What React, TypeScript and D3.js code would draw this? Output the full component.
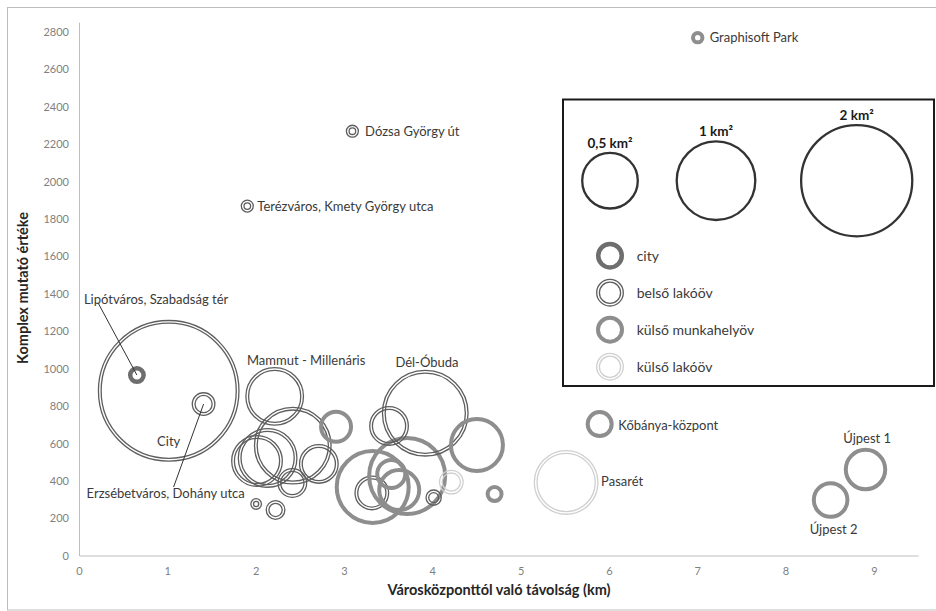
import React from "react";
import * as d3 from "d3";

// ---- data ----
const names = [
  "Graphisoft Park", "Dózsa György út", "Terézváros, Kmety György utca", "Lipótváros, Szabadság tér",
  "City", "Erzsébetváros, Dohány utca", "Mammut - Millenáris", "", "", "", "", "", "", "", "",
  "", "", "", "", "", "", "Dél-Óbuda", "", "", "", "", "Kőbánya-központ", "Pasarét", "Újpest 1", "Újpest 2",
];
const distances = [
  7.0, 3.09, 1.9, 0.65, 1.01, 1.405, 2.21, 2.01, 2.13, 2.415, 2.41, 2.71, 2.905, 2.0, 2.22,
  3.32, 3.31, 3.71, 3.62, 3.53, 3.505, 3.915, 4.5, 4.21, 4.01, 4.7, 5.89, 5.51, 8.9, 8.505,
];
const values = [
  2770, 2270, 1870, 967, 883, 812, 853, 508, 524, 590, 390, 492, 691, 278, 246,
  369, 337, 428, 353, 438, 695, 763, 593, 395, 312, 331, 705, 393, 462, 299,
];
const areas = [
  0.029, 0.029, 0.029, 0.052, 3.26, 0.093, 0.563, 0.438, 0.583, 0.985, 0.146, 0.259, 0.187, 0.023, 0.065,
  0.935, 0.198, 1.036, 0.313, 0.166, 0.259, 1.225, 0.508, 0.101, 0.045, 0.052, 0.127, 0.684, 0.305, 0.229,
];
// C = city, B = belső lakóöv, K = külső munkahelyöv, L = külső lakóöv
const zones = [
  "K", "B", "B", "C", "B", "B", "B", "B", "B", "B", "B", "B", "K", "B", "B",
  "K", "B", "K", "K", "K", "B", "B", "K", "L", "B", "K", "K", "L", "K", "K",
];
const yTicks = [0, 200, 400, 600, 800, 1000, 1200, 1400, 1600, 1800, 2000, 2200, 2400, 2600, 2800];
const xTicks = [0, 1, 2, 3, 4, 5, 6, 7, 8, 9];
const legendSizes = [0.5, 1, 2];
const legendSizeLabels = ["0,5 km²", "1 km²", "2 km²"];
const legendZones = ["C", "B", "K", "L"];
const legendZoneLabels = ["city", "belső lakóöv", "külső munkahelyöv", "külső lakóöv"];

// labels: index of bubble, offset, anchor, leader line
const labelIdx = [0, 1, 2, 3, 4, 5, 6, 21, 26, 27, 28, 29];
const labelDx = [12, 12.7, 10, -53, 0, -117, 31.5, 1.7, 18.6, 35, 1.7, 3];
const labelDy = [0, 0, 0, -76, 51, 89, -35.6, -50.6, 1, -1, -31, 29];
const labelAnchor = ["start", "start", "start", "start", "middle", "start", "middle", "middle", "start", "start", "middle", "middle"];
const leaderFrom: ([number, number] | null)[] = [null, null, null, [14, 3.5], null, [87, -6], null, null, null, null, null, null];

const FONT = "Lato, 'Open Sans', sans-serif";

const x = d3.scaleLinear().domain([0, 9.5]).range([79.5, 918.5]);
const y = d3.scaleLinear().domain([0, 2850]).range([556, 22.7]);
const r = d3.scaleSqrt().domain([0, 1]).range([0, 39.3]);

function Ring({ cx, cy, R, zone }: { cx: number; cy: number; R: number; zone: string }) {
  if (zone === "C") {
    return <circle cx={cx} cy={cy} r={Math.max(R - 2.25, 1)} fill="none" stroke="#6e6e6e" strokeWidth={4.5} />;
  }
  if (zone === "K") {
    return <circle cx={cx} cy={cy} r={Math.max(R - 2, 1)} fill="none" stroke="#8e8e8e" strokeWidth={4} />;
  }
  const col = zone === "B" ? "#5e5e5e" : "#cfcfcf";
  return (
    <g>
      <circle cx={cx} cy={cy} r={R - 0.7} fill="none" stroke={col} strokeWidth={1.3} />
      <circle cx={cx} cy={cy} r={Math.max(R - 3.4, 0.8)} fill="none" stroke={col} strokeWidth={1.3} />
    </g>
  );
}

export default function App() {
  const sizeCx = [610, 716, 856.7];
  const sizeCy = 180.7;
  return (
    <svg width={936} height={611} style={{ position: "absolute", left: 0, top: 0, background: "#fff" }} fontFamily={FONT}>
      <rect x={0} y={0} width={936} height={611} fill="#fff" />
      <rect x={7.5} y={7.5} width={940} height={602.5} fill="none" stroke="#bdbdbd" strokeWidth={1} />
      {/* axes */}
      <line x1={x(0)} x2={x(0)} y1={y(2850)} y2={y(0)} stroke="#bfbfbf" strokeWidth={1} />
      <line x1={x(0)} x2={x(9.5)} y1={y(0)} y2={y(0)} stroke="#bfbfbf" strokeWidth={1} />
      {yTicks.map((t) => (
        <text key={t} x={69} y={y(t)} dy="0.35em" textAnchor="end" fontSize={11} fill="#7f7f7f">
          {t}
        </text>
      ))}
      {xTicks.map((t) => (
        <text key={t} x={x(t)} y={571} dy="0.35em" textAnchor="middle" fontSize={11} fill="#7f7f7f">
          {t}
        </text>
      ))}
      <text x={23} y={288} transform="rotate(-90 23 288)" textAnchor="middle" dy="0.35em" fontSize={14.5} fontWeight="bold" fill="#262626">
        Komplex mutató értéke
      </text>
      <text x={499} y={590} textAnchor="middle" dy="0.35em" fontSize={14.5} fontWeight="bold" fill="#262626">
        Városközponttól való távolság (km)
      </text>
      {/* bubbles */}
      {distances.map((d, i) => (
        <Ring key={i} cx={x(d)} cy={y(values[i])} R={r(areas[i])} zone={zones[i]} />
      ))}
      {/* labels */}
      {labelIdx.map((bi, k) => {
        const cx = x(distances[bi]);
        const cy = y(values[bi]);
        const lx = cx + labelDx[k];
        const ly = cy + labelDy[k];
        const lf = leaderFrom[k];
        return (
          <g key={k}>
            {lf && <line x1={lx + lf[0]} y1={ly + lf[1]} x2={cx} y2={cy} stroke="#333" strokeWidth={1} />}
            <text x={lx} y={ly} dy="0.35em" textAnchor={labelAnchor[k]} fontSize={13} fill="#3a3a3a">
              {names[bi]}
            </text>
          </g>
        );
      })}
      {/* legend */}
      <rect x={563} y={99.5} width={371} height={286.5} fill="#fff" stroke="#1a1a1a" strokeWidth={2} />
      {legendSizes.map((s, i) => {
        const R = r(s);
        return (
          <g key={s}>
            <circle cx={sizeCx[i]} cy={sizeCy} r={R} fill="none" stroke="#333" strokeWidth={2.3} />
            <text x={sizeCx[i]} y={sizeCy - R - 5} textAnchor="middle" fontSize={13.5} fontWeight="bold" fill="#1a1a1a">
              {legendSizeLabels[i]}
            </text>
          </g>
        );
      })}
      {legendZones.map((z, i) => {
        const cy = 255.7 + i * 37;
        return (
          <g key={z}>
            <Ring cx={610} cy={cy} R={14} zone={z} />
            <text x={636.7} y={cy} dy="0.35em" fontSize={14} fill="#3a3a3a">
              {legendZoneLabels[i]}
            </text>
          </g>
        );
      })}
    </svg>
  );
}
